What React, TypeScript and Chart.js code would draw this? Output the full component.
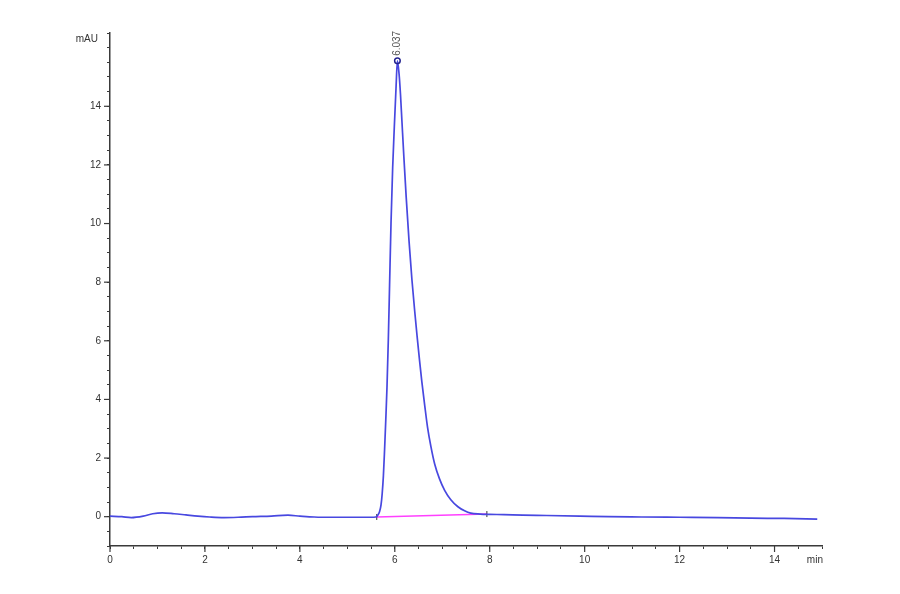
import React, { useEffect, useRef } from 'react';
import { Chart, registerables } from 'chart.js';

Chart.register(...registerables);

// retention time (min) and signal (mAU) of the trace
const retentionTimes = [
  0, 0.25, 0.45, 0.7, 0.9, 1.1, 1.35, 1.6, 1.85, 2.1, 2.4, 2.7, 3.0, 3.4, 3.75, 4.0, 4.3, 4.7, 5.0, 5.3, 5.5,
  5.6, 5.64, 5.68, 5.71, 5.735, 5.76, 5.785, 5.81, 5.835, 5.863, 5.89, 5.92, 5.955, 5.99, 6.025, 6.055,
  6.09, 6.12, 6.15, 6.19, 6.24, 6.3, 6.36, 6.42, 6.47, 6.52, 6.57, 6.63, 6.69, 6.76, 6.84, 6.94, 7.05, 7.18, 7.33, 7.47, 7.6, 7.8, 8.0,
  8.3, 8.7, 9.2, 9.9, 10.5, 11.2, 12.0, 12.8, 13.5, 14.2, 14.9,
];
const absorbance = [
  0.02, 0.0, -0.03, 0.02, 0.1, 0.13, 0.1, 0.06, 0.02, -0.01, -0.03, -0.02, 0.0, 0.02, 0.05, 0.02, -0.01, -0.02, -0.02, -0.02, -0.02,
  -0.01, 0.05, 0.18, 0.4, 0.8, 1.4, 2.3, 3.3, 4.4, 6.0, 7.9, 10.0, 11.9, 13.3, 14.6, 15.55,
  15.1, 14.4, 13.5, 12.3, 10.9, 9.4, 8.1, 7.0, 6.15, 5.35, 4.6, 3.8, 3.05, 2.4, 1.8, 1.3, 0.9, 0.58, 0.34, 0.2, 0.12, 0.09, 0.08,
  0.07, 0.05, 0.04, 0.02, 0.0, -0.01, -0.02, -0.03, -0.05, -0.06, -0.08,
];

// integration baseline under the peak
const baselineTimes = [5.62, 7.94];
const baselineValues = [-0.01, 0.09];

// apex of the peak
const peakTime = 6.055;
const peakHeight = 15.55;
const peakLabel = '6.037';

const xMajorTicks = [0, 2, 4, 6, 8, 10, 12, 14];
const yMajorTicks = [0, 2, 4, 6, 8, 10, 12, 14];
const xUnit = 'min';
const yUnit = 'mAU';

const AXIS = '#3a3a3a';
const FONT = '"Liberation Sans", Arial, sans-serif';

const App = () => {
  const chartRef = useRef<HTMLCanvasElement>(null);
  const chartInstanceRef = useRef<Chart | null>(null);

  useEffect(() => {
    const canvas = chartRef.current;
    if (!canvas) return;
    const ctx = canvas.getContext('2d');
    if (!ctx) return;

    // longer marks on labelled ticks, unit labels, and the retention time over the apex
    const extras = {
      id: 'extras',
      afterDraw(chart: any) {
        const c = chart.ctx;
        const xs = chart.scales.x;
        const ys = chart.scales.y;
        c.save();
        c.strokeStyle = AXIS;
        c.lineWidth = 1.2;
        xMajorTicks.forEach((v) => {
          const px = xs.getPixelForValue(v);
          c.beginPath();
          c.moveTo(px, ys.bottom);
          c.lineTo(px, ys.bottom + 6);
          c.stroke();
        });
        yMajorTicks.forEach((v) => {
          const py = ys.getPixelForValue(v);
          c.beginPath();
          c.moveTo(xs.left, py);
          c.lineTo(xs.left - 6, py);
          c.stroke();
        });
        c.fillStyle = '#333';
        c.font = '10px ' + FONT;
        c.textAlign = 'right';
        c.textBaseline = 'middle';
        c.fillText(yUnit, xs.left - 12, ys.getPixelForValue(16.3));
        c.textAlign = 'center';
        c.textBaseline = 'top';
        c.fillText(xUnit, xs.getPixelForValue(14.85), ys.bottom + 9);

        const px = xs.getPixelForValue(peakTime);
        const py = ys.getPixelForValue(peakHeight);
        c.translate(px, py - 5);
        c.rotate(-Math.PI / 2);
        c.fillStyle = '#555';
        c.textAlign = 'left';
        c.textBaseline = 'middle';
        c.fillText(peakLabel, 0, 0);
        c.restore();
      },
    };

    chartInstanceRef.current = new Chart(ctx, {
      type: 'line',
      data: {
        datasets: [
          {
            label: 'signal',
            data: retentionTimes.map((t, i) => ({ x: t, y: absorbance[i] })),
            borderColor: '#4848e0',
            borderWidth: 1.7,
            pointRadius: 0,
            tension: 0.4,
            cubicInterpolationMode: 'monotone',
            order: 1,
          },
          {
            label: 'baseline',
            data: baselineTimes.map((t, i) => ({ x: t, y: baselineValues[i] })),
            borderColor: '#ff40ff',
            borderWidth: 1.5,
            pointStyle: 'line',
            rotation: 90,
            pointRadius: 3,
            pointBorderColor: '#333',
            pointBorderWidth: 1,
            order: 2,
          },
          {
            label: 'apex',
            data: [{ x: peakTime, y: peakHeight }],
            showLine: false,
            pointRadius: 2.8,
            pointBorderWidth: 1.5,
            pointBorderColor: '#23238f',
            pointBackgroundColor: 'rgba(0,0,0,0)',
            order: 0,
          },
        ],
      },
      options: {
        responsive: true,
        maintainAspectRatio: false,
        animation: false,
        layout: { padding: { left: 0, right: 78, top: 33, bottom: 0 } },
        plugins: {
          legend: { display: false },
          tooltip: { enabled: false },
        },
        scales: {
          x: {
            type: 'linear',
            min: 0,
            max: 15,
            afterFit: (scale: any) => { scale.height = 48; },
            border: { display: true, color: AXIS, width: 1.5 },
            grid: { drawOnChartArea: false, drawTicks: true, tickLength: 3, tickColor: AXIS },
            ticks: {
              stepSize: 0.5,
              autoSkip: false,
              maxRotation: 0,
              padding: 5,
              color: '#333',
              font: { family: FONT, size: 10 },
              callback: (v: any) => (v % 2 === 0 && v <= 14 ? String(v) : ''),
            },
          },
          y: {
            type: 'linear',
            min: -1,
            max: 16.5,
            afterFit: (scale: any) => { scale.width = 110; },
            border: { display: true, color: AXIS, width: 1.5 },
            grid: { drawOnChartArea: false, drawTicks: true, tickLength: 3, tickColor: AXIS },
            ticks: {
              stepSize: 0.5,
              autoSkip: false,
              padding: 6,
              color: '#333',
              font: { family: FONT, size: 10 },
              callback: (v: any) => (v >= 0 && v <= 14 && v % 2 === 0 ? String(v) : ''),
            },
          },
        },
      },
      plugins: [extras],
    } as any);

    return () => {
      if (chartInstanceRef.current) {
        chartInstanceRef.current.destroy();
      }
    };
  }, []);

  return (
    <div style={{ position: 'absolute', left: 0, top: 0, width: 900, height: 594, background: '#fff' }}>
      <canvas ref={chartRef}></canvas>
    </div>
  );
};

export default App;
